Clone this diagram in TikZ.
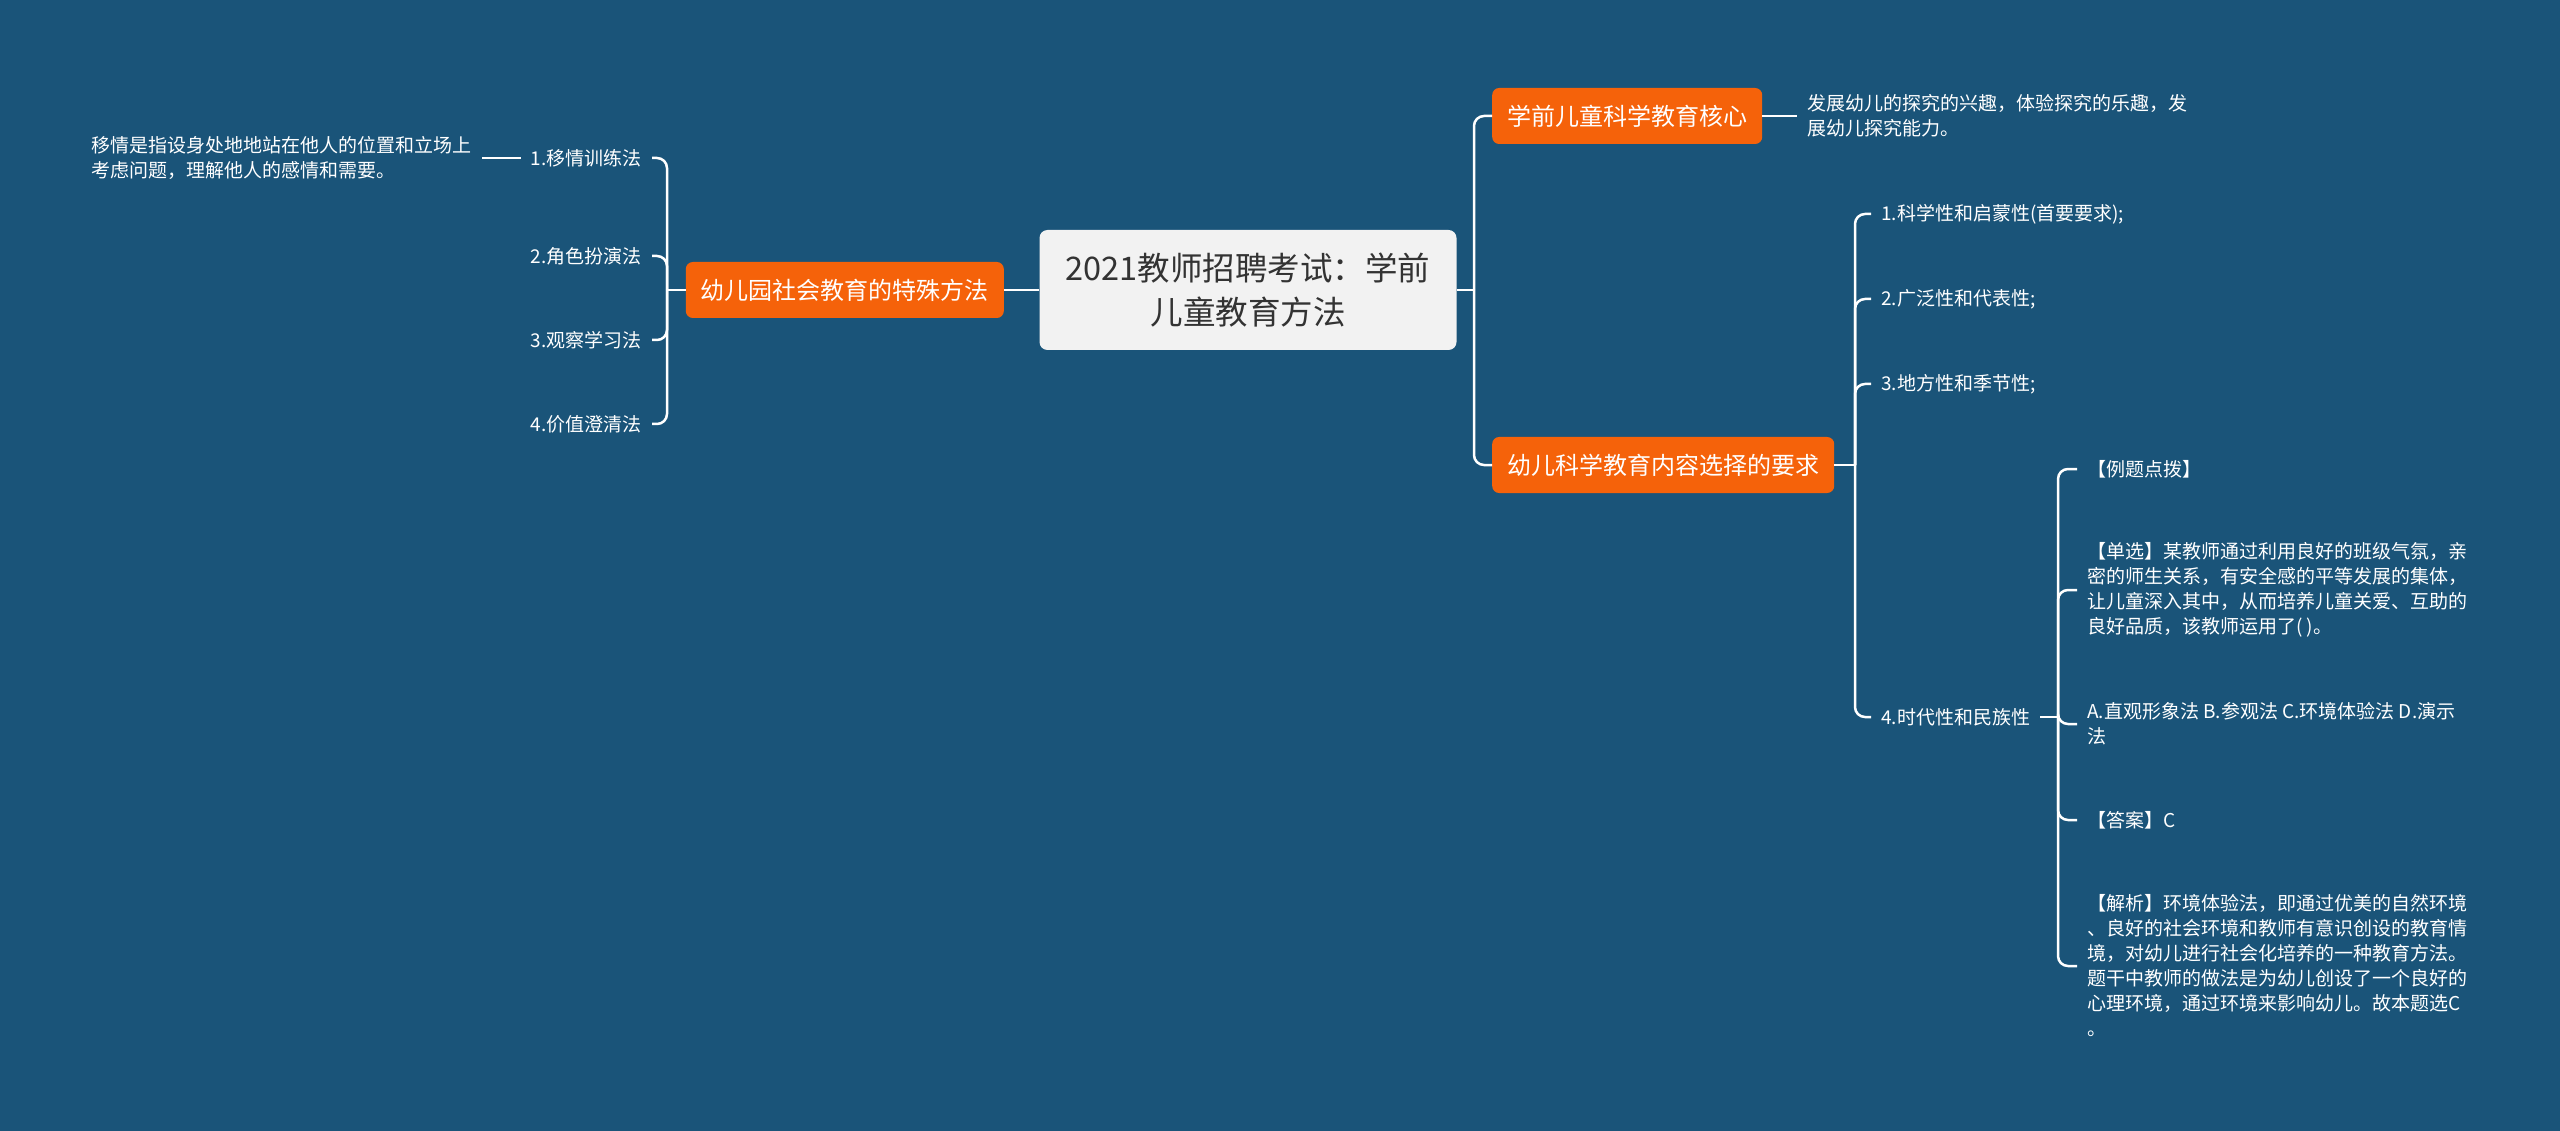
\documentclass[tikz,border=0pt]{standalone}
\usepackage{fontspec}
\setmainfont{Noto Sans CJK SC}
\definecolor{bgblue}{HTML}{1A5479}
\definecolor{mmorange}{HTML}{F5620A}
\definecolor{rootgray}{HTML}{F2F2F2}
\definecolor{rootink}{HTML}{333333}
\begin{document}
\begin{tikzpicture}[x=1pt, y=-1pt,
  link/.style={draw=white, line width=2.5pt, rounded corners=10pt},
  rootbox/.style={fill=rootgray, text=rootink, rounded corners=8pt, align=center,
    minimum width=417pt, minimum height=120pt, font=\fontsize{32.5}{44}\selectfont},
  topicbox/.style={fill=mmorange, text=white, rounded corners=7pt, inner xsep=15pt,
    minimum height=56pt, font=\fontsize{24}{30}\selectfont},
  leaf/.style={text=white, align=left, inner xsep=10pt, inner ysep=2pt,
    font=\fontsize{19}{25}\selectfont}]
\useasboundingbox[fill=bgblue] (0,0) rectangle (2560,1131);
% centre and main topics
\node[rootbox] (root) at (1248,290) {2021教师招聘考试：学前\\儿童教育方法};
\node[topicbox, anchor=east] (soc) at (1004,290) {幼儿园社会教育的特殊方法};
\node[topicbox, anchor=west] (core) at (1492,116) {学前儿童科学教育核心};
\node[topicbox, anchor=west] (req) at (1492,465) {幼儿科学教育内容选择的要求};
\coordinate (socfork) at (667,290);
\coordinate (rootfork) at (1474,290);
\coordinate (reqfork) at (1855,465);
% left side
\node[leaf, anchor=east] (m1) at (652,158) {1.移情训练法};
\node[leaf, anchor=east] (m2) at (652,256) {2.角色扮演法};
\node[leaf, anchor=east] (m3) at (652,340) {3.观察学习法};
\node[leaf, anchor=east] (m4) at (652,424) {4.价值澄清法};
\node[leaf, anchor=east] (empathy) at (482,158) {移情是指设身处地地站在他人的位置和立场上\\考虑问题，理解他人的感情和需要。};
% right side
\node[leaf, anchor=west] (coreleaf) at (1797,116) {发展幼儿的探究的兴趣，体验探究的乐趣，发\\展幼儿探究能力。};
\node[leaf, anchor=west] (r1) at (1871,214) {1.科学性和启蒙性(首要要求);};
\node[leaf, anchor=west] (r2) at (1871,299) {2.广泛性和代表性;};
\node[leaf, anchor=west] (r3) at (1871,384) {3.地方性和季节性;};
\node[leaf, anchor=west] (r4) at (1871,717) {4.时代性和民族性};
\coordinate (r4fork) at (2058,717);
\node[leaf, anchor=west] (e1) at (2077,469) {【例题点拨】};
\node[leaf, anchor=west] (e2) at (2077,590) {【单选】某教师通过利用良好的班级气氛，亲\\密的师生关系，有安全感的平等发展的集体，\\让儿童深入其中，从而培养儿童关爱、互助的\\良好品质，该教师运用了( )。};
\node[leaf, anchor=west] (e3) at (2077,724) {A.直观形象法 B.参观法 C.环境体验法 D.演示\\法};
\node[leaf, anchor=west] (e4) at (2077,820) {【答案】C};
\node[leaf, anchor=west] (e5) at (2077,966) {【解析】环境体验法，即通过优美的自然环境\\、良好的社会环境和教师有意识创设的教育情\\境，对幼儿进行社会化培养的一种教育方法。\\题干中教师的做法是为幼儿创设了一个良好的\\心理环境，通过环境来影响幼儿。故本题选C\\。};
% connectors
\draw[link] (root.west) -- (soc.east);
\draw[link] (soc.west) -- (socfork);
\foreach \n in {m1,m2,m3,m4}
  \draw[link] (\n.east) -| (socfork);
\draw[link] (m1.west) -- (m1.west -| empathy.east);
\draw[link] (root.east) -- (rootfork);
\draw[link] (rootfork) |- (core.west);
\draw[link] (rootfork) |- (req.west);
\draw[link] (core.east) -- (coreleaf.west);
\draw[link] (req.east) -- (reqfork);
\foreach \n in {r1,r2,r3,r4}
  \draw[link] (reqfork) |- (\n.west);
\draw[link] (r4.east) -- (r4fork);
\foreach \n in {e1,e2,e3,e4,e5}
  \draw[link] (r4fork) |- (\n.west);
\end{tikzpicture}
\end{document}
